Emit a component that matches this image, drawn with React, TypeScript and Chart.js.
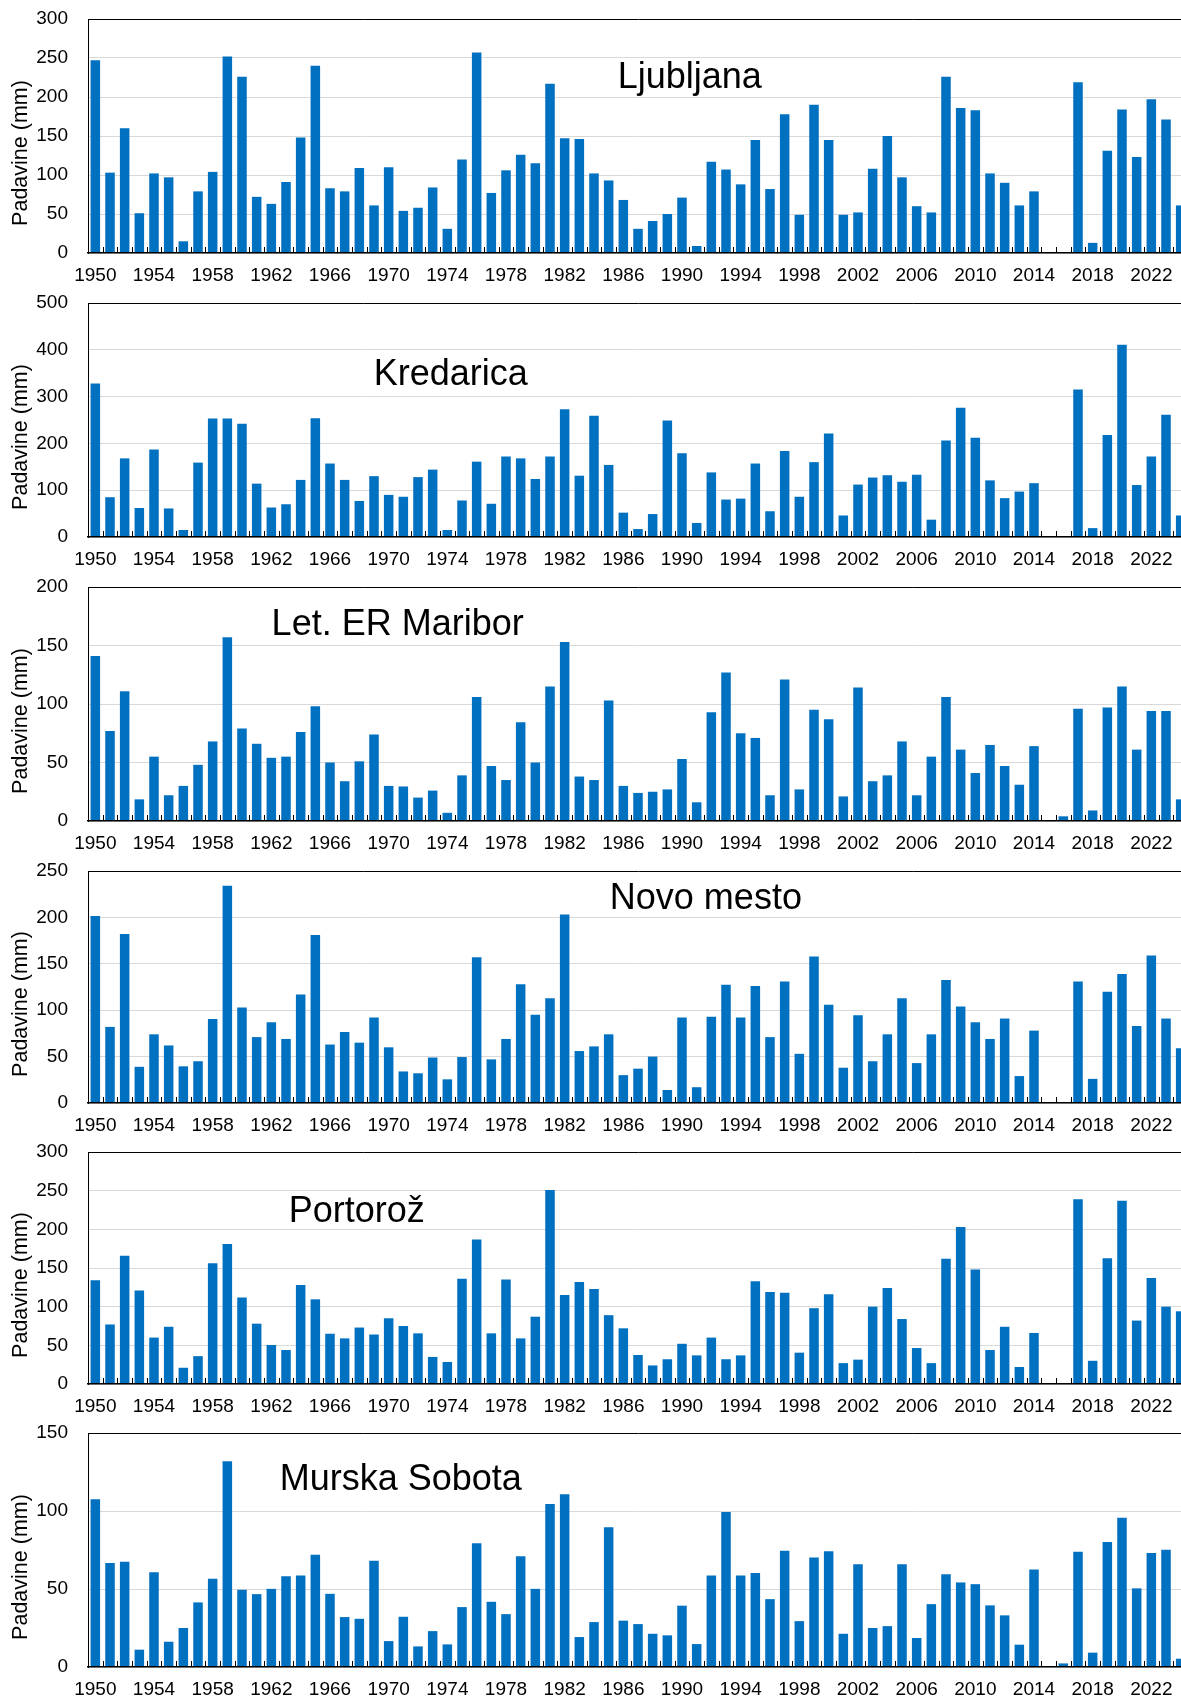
import React, { useEffect, useRef } from "react";
import { Chart, registerables } from "chart.js";

Chart.register(...registerables);

// ---------- data ----------
const YEARS: string[] = [
  "1950","1951","1952","1953","1954","1955","1956","1957","1958","1959",
  "1960","1961","1962","1963","1964","1965","1966","1967","1968","1969",
  "1970","1971","1972","1973","1974","1975","1976","1977","1978","1979",
  "1980","1981","1982","1983","1984","1985","1986","1987","1988","1989",
  "1990","1991","1992","1993","1994","1995","1996","1997","1998","1999",
  "2000","2001","2002","2003","2004","2005","2006","2007","2008","2009",
  "2010","2011","2012","2013","2014","2015","2016","2017","2018","2019",
  "2020","2021","2022","2023","2024",
];

const LJUBLJANA = [
  247, 103, 160, 51, 102, 97, 15, 79, 104, 252,
  226, 72, 63, 91, 148, 240, 83, 79, 109, 61,
  110, 54, 58, 84, 31, 120, 257, 77, 106, 126,
  115, 217, 147, 146, 102, 93, 68, 31, 41, 50,
  71, 9, 117, 107, 88, 145, 82, 178, 49, 190,
  145, 49, 52, 108, 150, 97, 60, 52, 226, 186,
  183, 102, 90, 61, 79, 1, 0, 219, 13, 131,
  184, 123, 197, 171, 61,
];

const KREDARICA = [
  328, 85, 168, 62, 187, 61, 15, 159, 253, 253,
  242, 114, 63, 70, 122, 254, 157, 122, 77, 130,
  90, 86, 128, 144, 15, 78, 161, 71, 172, 168,
  124, 172, 273, 131, 259, 154, 52, 17, 49, 249,
  179, 30, 138, 80, 82, 157, 55, 184, 86, 160,
  221, 46, 112, 127, 132, 118, 133, 37, 206, 276,
  212, 121, 83, 97, 115, 2, 1, 315, 19, 218,
  411, 111, 172, 261, 46,
];

const MARIBOR = [
  141, 77, 111, 18.5, 55, 22, 30, 48, 68, 157,
  79, 66, 54, 55, 76, 98, 50, 34, 51, 74,
  30, 29.5, 20, 26, 7, 39, 106, 47, 35, 84.5,
  50, 115, 153, 38, 35, 103, 30, 24, 25, 27,
  53, 16, 93, 127, 75, 71, 22, 121, 27, 95,
  87, 21, 114, 34, 39, 68, 22, 55, 106, 61,
  41, 65, 47, 31, 64, 0, 4, 96, 9, 97,
  115, 61, 94, 94, 18.5,
];

const NOVO_MESTO = [
  201.5, 82, 182, 39, 74, 62, 39.5, 45, 90.5, 234,
  103, 71, 87, 69, 117, 181, 63, 76.5, 65, 92,
  60, 34, 32, 49, 25.5, 49.5, 157, 47, 69, 128,
  95, 113, 203, 56, 61, 74, 30, 37, 50, 14,
  92, 17, 93, 127.5, 92, 126, 71, 131, 53, 158,
  106, 38, 94.5, 45, 74, 113, 43, 74, 132.5, 104,
  87, 69, 91, 29, 78, 0.5, 0.5, 131, 26, 120,
  139, 83, 159, 91, 59,
];

const PORTOROZ = [
  134, 77, 166, 121, 60, 74, 21, 36, 156, 181,
  112, 78, 50.5, 44, 128, 109.5, 65, 59, 73, 64,
  85, 75, 65.5, 35, 28.5, 136, 187, 65.5, 135, 59,
  87, 251, 115, 132, 123, 89, 72, 37.5, 24, 32,
  52, 37, 60, 32, 37, 133, 119, 118, 40.5, 98,
  116, 27, 31.5, 100, 124, 84, 46.5, 27, 162, 203,
  148, 44, 74, 22, 66, 0, 1, 239, 30, 162.5,
  237, 82, 137, 100, 94,
];

const MURSKA_SOBOTA = [
  107.5, 66.6, 67.4, 11.1, 60.8, 16.2, 25, 41.4, 56.5, 131.9,
  49.5, 46.7, 50.1, 58.2, 58.7, 71.9, 46.9, 32, 30.9, 68.1,
  16.6, 32.2, 13.2, 23, 14.5, 38.4, 79.4, 41.8, 33.9, 71,
  50.1, 104.5, 110.7, 19.2, 28.8, 89.6, 29.7, 27.5, 21.3, 20.3,
  39.3, 14.7, 58.7, 99.4, 58.7, 60.2, 43.5, 74.5, 29.4, 70.2,
  74.2, 21.3, 65.9, 25, 26.2, 65.9, 18.6, 40.3, 59.5, 54.2,
  53.1, 39.5, 33.1, 14.3, 62.5, 0.6, 2.3, 73.8, 9.2, 80.2,
  95.6, 50.4, 73, 75.1, 5.3,
];

const SERIES = [LJUBLJANA, KREDARICA, MARIBOR, NOVO_MESTO, PORTOROZ, MURSKA_SOBOTA];
const STATIONS = ["Ljubljana", "Kredarica", "Let. ER Maribor", "Novo mesto", "Portorož", "Murska Sobota"];
const Y_MAX = [300, 500, 200, 250, 300, 150];
const Y_STEP = [50, 100, 50, 50, 50, 50];
const Y_TITLE = "Padavine (mm)";
const X_LABEL_EVERY = 4;

// ---------- layout / style ----------
const FONT = "'Liberation Sans', Arial, Helvetica, sans-serif";
const BAR_COLOR = "#0070C0";
const GRID_COLOR = "#d9d9d9";
const PAGE_W = 1181;
const PAGE_H = 1699;
const CANVAS_W = 1188;
const Y_AXIS_W = 88;
const PAD_TOP = 20;
const X_AXIS_H = 34;
const TICK_FONT = 19;
const Y_TICK_PAD = 20;
const NAME_FONT = 36;
const YTITLE_FONT = 21.5;
const YTITLE_X = 21;
const YTITLE_SHIFT = 17;
const INNER_TICK = 6;

// plot top (px), plot height (px), station name centre (fraction of plot width), name baseline below plot top (px)
const PANELS = [
  { top: 19, h: 234, nameFx: 0.547, nameBase: 69 },
  { top: 303, h: 234, nameFx: 0.3297, nameBase: 82 },
  { top: 587, h: 234, nameFx: 0.2815, nameBase: 48 },
  { top: 871, h: 232, nameFx: 0.5617, nameBase: 38 },
  { top: 1152, h: 232, nameFx: 0.2443, nameBase: 70 },
  { top: 1433, h: 234, nameFx: 0.2843, nameBase: 57 },
];

function Panel({ index }: { index: number }) {
  const ref = useRef<HTMLCanvasElement | null>(null);
  const p = PANELS[index];
  const H = PAD_TOP + p.h + X_AXIS_H;

  useEffect(() => {
    const canvas = ref.current;
    if (!canvas) return;
    const max = Y_MAX[index];

    const innerTicks = {
      id: "innerTicks",
      afterDatasetsDraw(chart: any) {
        const x = chart.scales.x;
        const { ctx, chartArea } = chart;
        const n = chart.data.labels.length;
        const w = x.getPixelForValue(1) - x.getPixelForValue(0);
        ctx.save();
        ctx.strokeStyle = "#000";
        ctx.lineWidth = 1;
        ctx.beginPath();
        for (let i = 1; i < n; i++) {
          const px = Math.round(x.getPixelForValue(i) - w / 2) + 0.5;
          ctx.moveTo(px, chartArea.bottom);
          ctx.lineTo(px, chartArea.bottom - INNER_TICK);
        }
        ctx.stroke();
        ctx.restore();
      },
    };

    const panelText = {
      id: "panelText",
      afterDraw(chart: any) {
        const { ctx, chartArea } = chart;
        ctx.save();
        ctx.fillStyle = "#000";
        ctx.font = `${NAME_FONT}px ${FONT}`;
        ctx.textAlign = "center";
        ctx.textBaseline = "alphabetic";
        ctx.fillText(
          STATIONS[index],
          chartArea.left + p.nameFx * (chartArea.right - chartArea.left),
          chartArea.top + p.nameBase
        );
        ctx.font = `${YTITLE_FONT}px ${FONT}`;
        ctx.translate(YTITLE_X, (chartArea.top + chartArea.bottom) / 2 + YTITLE_SHIFT);
        ctx.rotate(-Math.PI / 2);
        ctx.textBaseline = "middle";
        ctx.textAlign = "center";
        ctx.fillText(Y_TITLE, 0, 0);
        ctx.restore();
      },
    };

    const chart = new Chart(canvas, {
      type: "bar",
      data: {
        labels: YEARS,
        datasets: [
          {
            data: SERIES[index],
            backgroundColor: BAR_COLOR,
            borderWidth: 0,
            barPercentage: 0.65,
            categoryPercentage: 1,
          },
        ],
      },
      options: {
        responsive: false,
        animation: false,
        layout: { padding: { top: PAD_TOP, left: 0, right: 0, bottom: 0 } },
        plugins: { legend: { display: false }, tooltip: { enabled: false }, title: { display: false } },
        scales: {
          x: {
            grid: { display: false, drawTicks: false },
            border: { display: true, color: "#000", width: 1.5, z: 1 },
            ticks: {
              autoSkip: false,
              maxRotation: 0,
              minRotation: 0,
              padding: 11,
              color: "#000",
              font: { family: FONT, size: TICK_FONT },
              callback: (_v: any, i: number) => (i % X_LABEL_EVERY === 0 ? YEARS[i] : ""),
            },
            afterFit: (s: any) => {
              s.height = X_AXIS_H;
              s.paddingLeft = 0;
              s.paddingRight = 0;
            },
          },
          y: {
            min: 0,
            max: max,
            ticks: {
              stepSize: Y_STEP[index],
              padding: Y_TICK_PAD,
              color: "#000",
              font: { family: FONT, size: TICK_FONT },
            },
            grid: {
              drawTicks: false,
              lineWidth: 1,
              color: (c: any) => (c.tick && c.tick.value === max ? "#000" : GRID_COLOR),
            },
            border: { display: true, color: "#000", width: 1 },
            afterFit: (s: any) => {
              s.width = Y_AXIS_W;
              s.paddingTop = 0;
              s.paddingBottom = 0;
            },
          },
        },
      } as any,
      plugins: [innerTicks, panelText],
    });
    return () => chart.destroy();
  }, [index]);

  return (
    <canvas
      ref={ref}
      width={CANVAS_W}
      height={H}
      style={{ position: "absolute", left: 0, top: p.top - PAD_TOP, width: CANVAS_W, height: H }}
    />
  );
}

export default function App() {
  return (
    <div
      style={{
        position: "absolute",
        left: 0,
        top: 0,
        width: PAGE_W,
        height: PAGE_H,
        overflow: "hidden",
        background: "#fff",
      }}
    >
      {PANELS.map((_, i) => (
        <Panel key={i} index={i} />
      ))}
    </div>
  );
}
